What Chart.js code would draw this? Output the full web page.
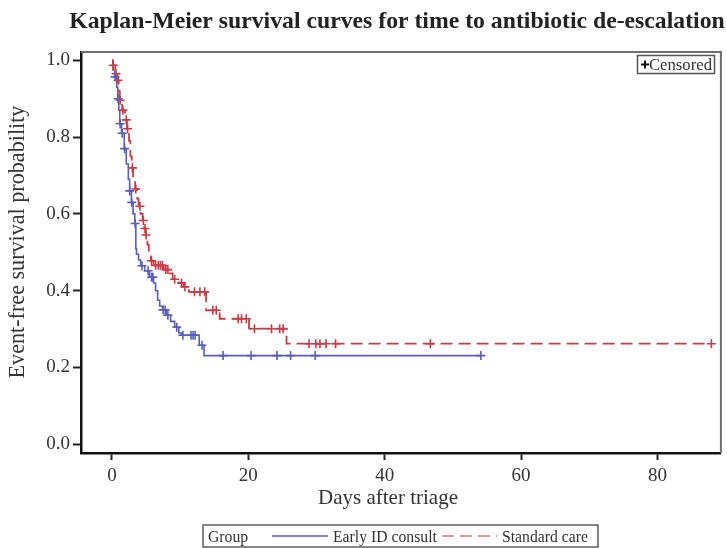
<!DOCTYPE html>
<html><head><meta charset="utf-8">
<script src="https://cdn.jsdelivr.net/npm/chart.js@4/dist/chart.umd.min.js"></script>
<style>html,body{margin:0;padding:0;background:#fff}#wrap{width:727px;height:548px}</style>
</head><body><div id="wrap"><canvas id="c" width="727" height="548"></canvas></div>
<script>
const titleText = 'Kaplan-Meier survival curves for time to antibiotic de-escalation';
const xTitle = 'Days after triage';
const yTitle = 'Event-free survival probability';
const legendTitle = 'Group';
const groupNames = ['Early ID consult', 'Standard care'];
const censorLabel = 'Censored';
const xTicks = [0, 20, 40, 60, 80];
const yTicks = [0, 0.2, 0.4, 0.6, 0.8, 1.0];

// Early ID consult: step times (days) and survival after each step
const earlyTimes = [0, 0.15, 0.4, 0.7, 0.85, 1.0, 1.15, 1.4, 1.8, 2.1, 2.4, 2.6, 2.85, 3.1, 3.35, 3.5, 3.6, 3.9, 4.2, 4.8, 5.5, 6.1, 6.4, 6.7, 7.0, 7.4, 8.0, 8.6, 9.2, 9.8, 10.2, 12.8, 13.5, 54.1];
const earlySurv  = [1.0, 0.975, 0.957, 0.93, 0.90, 0.87, 0.835, 0.81, 0.77, 0.73, 0.69, 0.66, 0.63, 0.60, 0.575, 0.51, 0.495, 0.48, 0.465, 0.452, 0.435, 0.42, 0.40, 0.375, 0.36, 0.35, 0.336, 0.32, 0.305, 0.29, 0.284, 0.258, 0.231, 0.231];
const earlyCensored = [0.45, 0.9, 1.2, 1.5, 1.85, 2.6, 2.9, 3.4, 4.4, 5.3, 5.8, 6.0, 7.5, 7.8, 8.2, 9.5, 10.4, 11.6, 11.9, 12.2, 13.2, 16.3, 20.4, 24.2, 26.2, 29.8, 54.1];

// Standard care
const stdTimes = [0, 0.15, 0.5, 0.8, 1.0, 1.15, 1.5, 1.9, 2.2, 2.5, 2.7, 2.9, 3.1, 3.4, 3.7, 3.9, 4.2, 4.5, 4.75, 4.95, 5.2, 5.4, 5.7, 6.1, 7.6, 8.4, 8.9, 9.8, 10.5, 11.3, 13.8, 15.8, 20.1, 25.6, 87.9];
const stdSurv  = [1.0, 0.987, 0.965, 0.948, 0.92, 0.896, 0.87, 0.845, 0.822, 0.79, 0.75, 0.72, 0.69, 0.665, 0.64, 0.62, 0.60, 0.583, 0.562, 0.545, 0.52, 0.495, 0.478, 0.466, 0.455, 0.445, 0.43, 0.42, 0.41, 0.397, 0.349, 0.327, 0.301, 0.262, 0.262];
const stdCensored = [0.2, 0.6, 0.9, 1.2, 1.6, 2.1, 2.3, 3.0, 3.5, 4.1, 4.6, 4.85, 5.0, 5.8, 6.4, 6.8, 7.1, 7.4, 7.9, 8.2, 9.2, 10.2, 10.7, 12.1, 12.9, 13.6, 14.8, 15.3, 18.5, 19.0, 19.7, 20.9, 23.4, 24.6, 25.1, 28.9, 29.9, 30.5, 31.4, 32.8, 46.7, 87.9];

const BLUE = '#5a5db5';
const RED = '#c73c46';
const FONT = "'Liberation Serif', 'Times New Roman', serif";

function survAt(times, surv, t) {
  let s = surv[0];
  for (let i = 0; i < times.length; i++) { if (times[i] <= t) s = surv[i]; }
  return s;
}
const toPts = (t, s) => t.map((v, i) => ({x: v, y: s[i]}));
const censPts = (c, t, s) => c.map(v => ({x: v, y: survAt(t, s, v)}));

function fitSize(ctx, text, weight, targetW) {
  ctx.font = `${weight} 20px ${FONT}`;
  return 20 * targetW / ctx.measureText(text).width;
}

const decor = {
  id: 'decor',
  afterDraw(chart) {
    const ctx = chart.ctx;
    const a = chart.chartArea;
    ctx.save();
    // frame top/right
    ctx.strokeStyle = '#6e6e6e'; ctx.lineWidth = 2;
    ctx.beginPath(); ctx.moveTo(a.left, a.top); ctx.lineTo(a.right, a.top); ctx.lineTo(a.right, a.bottom); ctx.stroke();
    ctx.fillStyle = '#222';
    // title
    let fs = fitSize(ctx, titleText, 'bold', 656);
    ctx.font = `bold ${fs}px ${FONT}`;
    ctx.textAlign = 'center'; ctx.textBaseline = 'middle';
    ctx.fillText(titleText, 397, 22);
    // x title
    fs = fitSize(ctx, xTitle, 'normal', 140);
    ctx.font = `normal ${fs}px ${FONT}`;
    ctx.fillStyle = '#333';
    ctx.fillText(xTitle, 388, 498);
    // y title
    fs = fitSize(ctx, yTitle, 'normal', 273);
    ctx.font = `normal ${fs}px ${FONT}`;
    ctx.save(); ctx.translate(18, 242); ctx.rotate(-Math.PI / 2);
    ctx.fillText(yTitle, 0, 0); ctx.restore();
    // censored box
    ctx.strokeStyle = '#555'; ctx.lineWidth = 1.5;
    ctx.strokeRect(637.5, 55.5, 77, 18);
    fs = fitSize(ctx, censorLabel, 'normal', 63);
    ctx.font = `normal ${fs}px ${FONT}`;
    ctx.textAlign = 'left'; ctx.textBaseline = 'alphabetic';
    ctx.fillText(censorLabel, 649, 70);
    ctx.strokeStyle = '#111'; ctx.lineWidth = 2;
    ctx.beginPath(); ctx.moveTo(641, 64.5); ctx.lineTo(649, 64.5); ctx.moveTo(645, 60.5); ctx.lineTo(645, 68.5); ctx.stroke();
    // legend
    ctx.strokeStyle = '#444'; ctx.lineWidth = 1.3;
    ctx.strokeRect(203, 525, 395, 22);
    fs = fitSize(ctx, groupNames[0], 'normal', 104);
    ctx.font = `normal ${fs}px ${FONT}`;
    ctx.fillStyle = '#333';
    ctx.fillText(legendTitle, 208, 542);
    ctx.fillText(groupNames[0], 333, 542);
    ctx.fillText(groupNames[1], 502, 542);
    ctx.lineWidth = 1.6;
    ctx.strokeStyle = BLUE;
    ctx.beginPath(); ctx.moveTo(272, 536); ctx.lineTo(328, 536); ctx.stroke();
    ctx.strokeStyle = '#d8707a'; ctx.setLineDash([12, 6]);
    ctx.beginPath(); ctx.moveTo(442, 536); ctx.lineTo(497, 536); ctx.stroke();
    ctx.restore();
  }
};

new Chart(document.getElementById('c'), {
  type: 'scatter',
  data: {
    datasets: [
      {type: 'line', label: groupNames[0], data: toPts(earlyTimes, earlySurv), stepped: 'before', borderColor: BLUE, borderWidth: 1.6, pointRadius: 0, fill: false, order: 2},
      {type: 'line', label: groupNames[1], data: toPts(stdTimes, stdSurv), stepped: 'before', borderColor: RED, borderDash: [12, 6], borderWidth: 1.8, pointRadius: 0, fill: false, order: 1},
      {label: censorLabel + ' ' + groupNames[0], data: censPts(earlyCensored, earlyTimes, earlySurv), pointStyle: 'cross', pointRadius: 4.5, borderColor: BLUE, borderWidth: 1.6, backgroundColor: BLUE},
      {label: censorLabel + ' ' + groupNames[1], data: censPts(stdCensored, stdTimes, stdSurv), pointStyle: 'cross', pointRadius: 4.5, borderColor: RED, borderWidth: 1.6, backgroundColor: RED}
    ]
  },
  options: {
    responsive: false, animation: false, devicePixelRatio: 1,
    layout: {padding: {top: 52, right: 5, left: 0, bottom: 0}},
    plugins: {legend: {display: false}, tooltip: {enabled: false}, title: {display: false}},
    scales: {
      x: {
        type: 'linear', min: -4.54, max: 89.3,
        afterBuildTicks: s => { s.ticks = xTicks.map(v => ({value: v})); },
        afterFit: s => { s.height = 95; },
        ticks: {font: {family: FONT, size: 19}, color: '#333', padding: 5, maxRotation: 0, autoSkip: false},
        grid: {drawOnChartArea: false, drawTicks: true, tickLength: 7, tickWidth: 2, color: '#222'},
        border: {display: true, color: '#111', width: 2.5},
        title: {display: false}
      },
      y: {
        type: 'linear', min: -0.0227, max: 1.0217,
        afterBuildTicks: s => { s.ticks = yTicks.map(v => ({value: v})); },
        afterFit: s => { s.width = 81; },
        ticks: {font: {family: FONT, size: 19}, color: '#333', padding: 3, callback: v => v.toFixed(1)},
        grid: {drawOnChartArea: false, drawTicks: true, tickLength: 8, tickWidth: 2, color: '#222'},
        border: {display: true, color: '#111', width: 2.5},
        title: {display: false}
      }
    }
  },
  plugins: [decor]
});
</script></body></html>
